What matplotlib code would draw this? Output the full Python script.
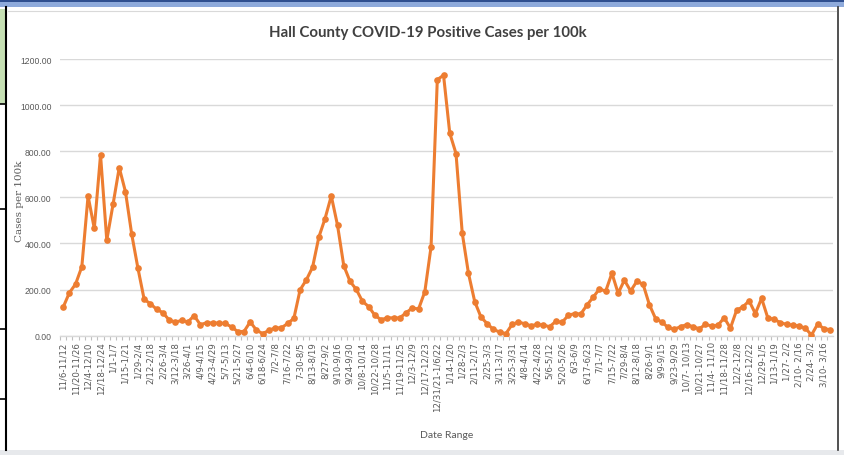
import matplotlib
matplotlib.use("Agg")
import matplotlib.pyplot as plt
import numpy as np
from matplotlib.patches import Rectangle
from matplotlib.lines import Line2D

week_labels = [
    "11/6-11/12", "11/20-11/26", "12/4-12/10", "12/18-12/24", "1/1-1/7", "1/15-1/21",
    "1/29-2/4", "2/12-2/18", "2/26-3/4", "3/12-3/18", "3/26-4/1", "4/9-4/15",
    "4/23-4/29", "5/7-5/13", "5/21-5/27", "6/4-6/10", "6/18-6/24", "7/2-7/8",
    "7/16-7/22", "7-30-8/5", "8/13-8/19", "8/27-9/2", "9/10-9/16", "9/24-9/30",
    "10/8-10/14", "10/22-10/28", "11/5-11/11", "11/19-11/25", "12/3-12/9", "12/17-12/23",
    "12/31/21-1/6/22", "1/14-1/20", "1/28-2/3", "2/11-2/17", "2/25-3/3", "3/11-3/17",
    "3/25-3/31", "4/8-4/14", "4/22-4/28", "5/6-5/12", "5/20-5/26", "6/3-6/9",
    "6/17-6/23", "7/1-7/7", "7/15-7/22", "7/29-8/4", "8/12-8/18", "8/26-9/1",
    "9/9-9/15", "9/23-9/29", "10/7- 10/13", "10/21-10/27", "11/4- 11/10", "11/18-11/28",
    "12/2-12/8", "12/16-12/22", "12/29-1/5", "1/13-1/19", "1/27- 2/2", "2/10- 2/16",
    "2/24- 3/2", "3/10- 3/16",
]

cases_per_100k = [
    123, 186, 224, 299, 606, 465, 784, 414, 569, 729,
    624, 440, 292, 157, 139, 114, 100, 68, 59, 66,
    59, 87, 48, 56, 55, 55, 53, 38, 18, 18,
    60, 24, 9, 23, 34, 34, 53, 75, 199, 242,
    297, 427, 508, 606, 479, 304, 236, 201, 149, 126,
    88, 69, 78, 77, 77, 100, 120, 116, 191, 386,
    1110, 1130, 878, 790, 445, 270, 148, 81, 52, 27,
    16, 9, 49, 59, 52, 43, 49, 46, 39, 62,
    58, 88, 96, 94, 133, 167, 203, 193, 271, 184,
    241, 194, 236, 223, 135, 74, 59, 36, 28, 39,
    48, 39, 30, 49, 42, 45, 78, 33, 111, 125,
    151, 96, 162, 77, 71, 57, 49, 46, 42, 33,
    3, 51, 30, 26,
]

W, H = 844, 456
fig = plt.figure(figsize=(W / 100, H / 100), dpi=100)
fig.patch.set_facecolor("white")

# window frame decorations
fig.patches.append(Rectangle((0, 1 - 8 / H), 1, 8 / H, transform=fig.transFigure,
                             facecolor="#8eaadb", edgecolor="none", zorder=0))
fig.patches.append(Rectangle((0, 1 - 3 / H), 1, 3 / H, transform=fig.transFigure,
                             facecolor="#2f4f8f", edgecolor="none", zorder=0))
fig.patches.append(Rectangle((0, 1 - 105 / H), 6 / W, 95 / H, transform=fig.transFigure,
                             facecolor="#c6e0b4", edgecolor="none", zorder=0))
fig.patches.append(Rectangle((0, 0), 1, 5 / H, transform=fig.transFigure,
                             facecolor="#e7e9ec", edgecolor="none", zorder=0))
fig.lines.append(Line2D([6 / W, 6 / W], [5 / H, 1 - 8 / H], transform=fig.transFigure,
                        color="black", lw=1.5))
fig.lines.append(Line2D([838 / W, 838 / W], [5 / H, 1 - 8 / H], transform=fig.transFigure,
                        color="#333333", lw=1.2))
fig.lines.append(Line2D([8 / W, 836 / W], [1 - 12 / H, 1 - 12 / H], transform=fig.transFigure,
                        color="#d9d9d9", lw=0.8))
for yy in [105, 210, 330, 400]:
    fig.lines.append(Line2D([0, 6 / W], [1 - yy / H, 1 - yy / H], transform=fig.transFigure,
                            color="black", lw=1.2))

left, right = 60, 833
bottom, top = 336.7, 60
ax = fig.add_axes([left / W, 1 - bottom / H, (right - left) / W, (bottom - top) / H])

x = np.arange(len(cases_per_100k))
ax.plot(x, cases_per_100k, color="#ed7d31", lw=2.2, marker="o", markersize=4.8,
        markeredgewidth=0, zorder=3)

ax.set_ylim(0, 1200)
ax.set_xlim(-0.45, len(cases_per_100k) - 0.55)
ax.set_yticks(np.arange(0, 1201, 200))
ax.set_yticklabels([f"{v:.2f}" for v in np.arange(0, 1201, 200)])
ax.yaxis.grid(True, color="#d9d9d9", lw=1.0)
ax.set_axisbelow(True)

ax.set_xticks(x[::2])
ax.set_xticklabels(week_labels, rotation=90)
ax.set_xticks(np.arange(len(cases_per_100k)) - 0.5, minor=True)

for s in ["top", "right", "left"]:
    ax.spines[s].set_visible(False)
ax.spines["bottom"].set_color("#d9d9d9")
ax.spines["bottom"].set_linewidth(1.0)

ax.tick_params(axis="y", length=0, labelsize=6.2, labelcolor="#595959", pad=6)
for lab in ax.get_yticklabels():
    lab.set_family("Liberation Sans")
ax.tick_params(axis="x", which="major", length=0, labelsize=6.2, labelcolor="#595959", pad=4)
ax.tick_params(axis="x", which="minor", length=3, color="#bfbfbf", width=0.8)

ax.set_ylabel("Cases per 100k", fontsize=7.5, color="#595959", family="DejaVu Serif")
ax.yaxis.set_label_coords(-0.046, 0.49)
ax.set_xlabel("Date Range", fontsize=7.5, color="#595959", labelpad=14, family="Lato")

fig.text(428 / W, 1 - 33 / H, "Hall County COVID-19 Positive Cases per 100k",
         ha="center", va="center", fontsize=10.8, color="#404040",
         family="Lato", fontweight="bold")

fig.savefig("out.png", dpi=100, facecolor=fig.get_facecolor())
